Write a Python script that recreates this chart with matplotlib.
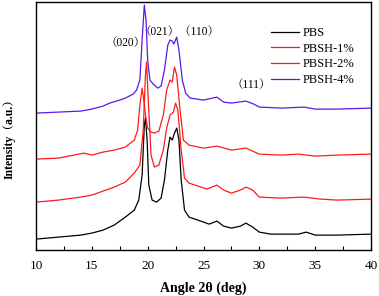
import matplotlib
matplotlib.use("Agg")
import matplotlib.pyplot as plt
from matplotlib.ticker import MultipleLocator

# ---- data (angle in deg, intensity in a.u.) ----
pbs_x = [10, 12, 14, 15, 16, 17, 18, 18.8, 19.2, 19.5, 19.7, 19.8, 19.95, 20.1, 20.4, 20.8,
         21.2, 21.5, 21.8, 22.0, 22.2, 22.4, 22.6, 22.8, 23.0, 23.3, 23.7, 24.5, 25.5, 26.2,
         26.8, 27.5, 28.3, 28.8, 29.4, 30, 31, 32, 33.5, 34.2, 35, 37, 40]
pbs_y = [11, 13, 15, 17, 20, 25, 33, 40, 50, 75, 125, 132, 110, 65, 50, 48,
         52, 70, 100, 113, 110, 117, 122, 110, 70, 40, 33, 30, 26, 29,
         24, 22, 24, 27, 23, 18, 16, 16, 16, 18, 15, 15, 16]

h1_x = [10, 12, 14.3, 15, 16, 17, 18, 18.8, 19.1, 19.3, 19.5, 19.65, 19.8, 20.0, 20.3, 20.6,
        21.0, 21.4, 21.7, 22.0, 22.2, 22.4, 22.6, 22.9, 23.2, 23.7, 25, 26.2, 27.5, 28.8,
        30, 32, 33.5, 35, 37, 40]
h1_y = [91, 92, 97, 95, 98, 100, 103, 110, 120, 145, 162, 150, 135, 122, 118, 117,
        119, 135, 160, 170, 168, 183, 175, 140, 110, 105, 102, 104, 100, 102,
        96, 95, 96, 94, 95, 96]

h2_x = [10, 12, 14, 15, 16, 17, 18, 18.8, 19.3, 19.6, 19.8, 19.9, 20.05, 20.3, 20.6, 21.0,
        21.4, 21.7, 22.0, 22.3, 22.5, 22.7, 23.0, 23.3, 23.7, 24.5, 25.3, 26.2, 26.8,
        27.5, 28.3, 28.8, 29.4, 30, 32, 34, 35.5, 37, 40]
h2_y = [48, 50, 53, 55, 59, 63, 68, 77, 85, 120, 175, 188, 150, 95, 83, 85,
        100, 122, 135, 138, 147, 140, 100, 72, 67, 64, 61, 65, 60,
        57, 60, 63, 60, 53, 52, 53, 51, 50, 51]

h4_x = [10, 12, 14, 15, 16, 16.6, 17.5, 18, 18.7, 19.0, 19.3, 19.5, 19.7, 19.85, 20.0, 20.2,
        20.5, 20.9, 21.2, 21.5, 21.8, 22.0, 22.2, 22.35, 22.6, 22.8, 23.1, 23.4, 23.8, 25,
        26.2, 26.8, 27.5, 28.8, 29.5, 30, 32, 34, 35, 37, 40]
h4_y = [137, 138, 139, 141, 144, 147, 150, 152, 156, 160, 170, 210, 245, 230, 190, 170,
        166, 162, 164, 180, 205, 210, 209, 206, 213, 200, 170, 157, 152, 150,
        153, 148, 147, 149, 146, 143, 142, 143, 141, 141, 142]

series_names = ["PBS", "PBSH-1%", "PBSH-2%", "PBSH-4%"]
series_colors = ["#000000", "#ff1a1a", "#ff1a1a", "#5a19e6"]

peak_labels = ["（020）", "（021）（110）", "（111）"]
peak_pos = [(18.05, 207), (22.85, 218), (29.25, 165)]

xticks = [10, 15, 20, 25, 30, 35, 40]

# ---- figure ----
serif = ["Liberation Serif", "Noto Serif CJK SC", "Noto Sans CJK SC", "DejaVu Serif"]
plt.rcParams["font.family"] = serif
plt.rcParams["mathtext.fontset"] = "stix"

fig = plt.figure(figsize=(3.79, 2.96), dpi=100)
ax = fig.add_axes([0.095, 0.155, 0.884, 0.838])

data = [(pbs_x, pbs_y), (h1_x, h1_y), (h2_x, h2_y), (h4_x, h4_y)]
for (xs, ys), name, c in zip(data, series_names, series_colors):
    ax.plot(xs, ys, color=c, lw=0.9, label=name)

ax.set_xlim(10, 40)
ax.set_ylim(0, 248)
ax.set_xticks(xticks)
ax.xaxis.set_minor_locator(MultipleLocator(2.5))
ax.tick_params(axis="x", which="both", direction="in", length=3, width=0.8,
               labelsize=9.5, pad=7)
ax.tick_params(axis="y", left=False, labelleft=False)
for s in ax.spines.values():
    s.set_linewidth(1.0)

for lab, (px, py) in zip(peak_labels, peak_pos):
    ax.text(px, py, lab, ha="center", va="center", fontsize=8.3, family=serif)

ax.set_xlabel("Angle 2θ (deg)", fontsize=10, fontweight="bold", labelpad=7)
fig.text(0.024, 0.54, "Intensity（a.u.）", rotation=90, ha="center", va="center",
         fontsize=8.5, fontweight="bold", family=serif)

leg = ax.legend(loc="upper left", bbox_to_anchor=(0.70, 0.90), frameon=False,
                fontsize=9, handlelength=2.3, handletextpad=0.25,
                labelspacing=0.3, borderpad=0, borderaxespad=0)

fig.savefig("out.png", dpi=100)
